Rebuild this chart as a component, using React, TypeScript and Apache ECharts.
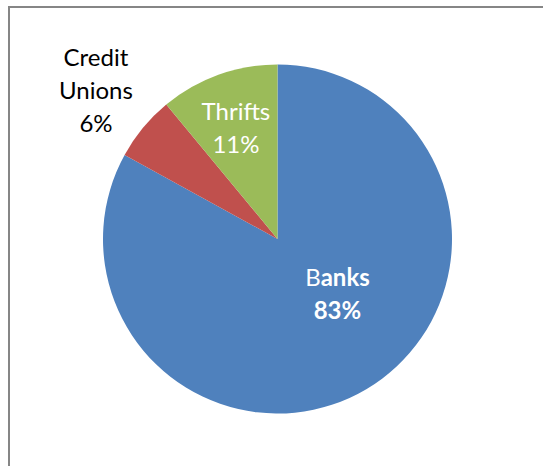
import React, { useEffect, useRef } from "react";
import * as echarts from "echarts";

const categories = ["Banks", "Credit Unions", "Thrifts"];
const values = [83, 6, 11];
const colors = ["#4F81BD", "#C0504D", "#9BBB59"];

export default function App() {
  const ref = useRef<HTMLDivElement>(null);
  useEffect(() => {
    if (!ref.current) return;
    const chart = echarts.init(ref.current, null, { renderer: "svg" });
    const font = "Lato, 'Open Sans', sans-serif";
    const labelCfg: any[] = [
      {
        show: true,
        position: "inside",
        offset: [14, -24],
        formatter: (p: any) => `{n|B}{b|anks}\n{b|${p.value}%}`,
        rich: {
          n: { fontFamily: font, fontSize: 24, color: "#fff", fontWeight: "normal", lineHeight: 33 },
          b: { fontFamily: font, fontSize: 24, color: "#fff", fontWeight: "bold", lineHeight: 33 },
        },
      },
      {
        show: true,
        position: "inside",
        offset: [-112, -92],
        formatter: (p: any) => `Credit\nUnions\n${p.value}%`,
        fontFamily: font,
        fontSize: 24,
        lineHeight: 33,
        color: "#000",
        align: "center",
      },
      {
        show: true,
        position: "inside",
        offset: [-11, -27],
        formatter: (p: any) => `${p.name}\n${p.value}%`,
        fontFamily: font,
        fontSize: 24,
        lineHeight: 33,
        color: "#fff",
        align: "center",
      },
    ];
    chart.setOption({
      animation: false,
      backgroundColor: "#fff",
      graphic: [
        {
          type: "rect",
          shape: { x: 9, y: 7, width: 800, height: 800 },
          style: { fill: "none", stroke: "#868686", lineWidth: 2 },
          silent: true,
        },
      ],
      series: [
        {
          type: "pie",
          center: [277.5, 239],
          radius: 174.5,
          startAngle: 90,
          clockwise: true,
          labelLine: { show: false },
          itemStyle: { borderWidth: 0 },
          emphasis: { disabled: true },
          data: categories.map((c, i) => ({
            name: c,
            value: values[i],
            itemStyle: { color: colors[i] },
            label: labelCfg[i],
          })),
        },
      ],
    });
    return () => chart.dispose();
  }, []);
  return (
    <div
      ref={ref}
      style={{ position: "absolute", left: 0, top: 0, width: 543, height: 466 }}
    />
  );
}
